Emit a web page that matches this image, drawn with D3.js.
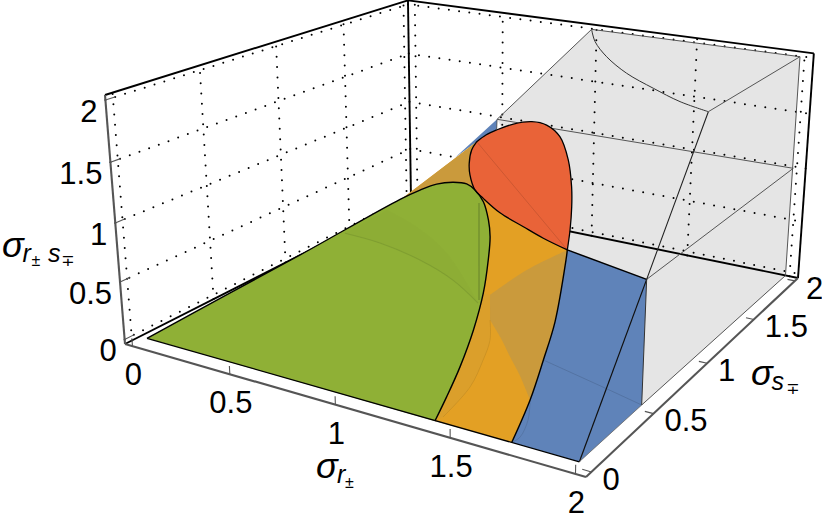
<!DOCTYPE html>
<html lang="en">
<head>
<meta charset="UTF-8">
<script src="https://d3js.org/d3.v7.min.js"></script>
<style>
  body { margin: 0; background: #fff; }
  text { font-family: "Liberation Sans", "DejaVu Sans", sans-serif; fill: #000; }
</style>
</head>
<body>
<svg class="chart" width="822" height="520"></svg>
<script>

const ticks = [0, 0.5, 1, 1.5, 2]
const tickLabels = ['0', '0.5', '1', '1.5', '2']

// curves on the slanted face sigma_rs = sigma_s, as [sigma_r, sigma_s]
const redUpper = [[0.824,1.263],[0.844,1.307],[0.876,1.344],[0.932,1.391],[1.007,1.421],[1.083,1.416],
  [1.175,1.366],[1.276,1.253],[1.362,1.122],[1.414,1.026],[1.466,0.915],[1.504,0.822]]
const redLower = [[1.504,0.822],[1.380,0.852],[1.270,0.886],[1.136,0.929],[1.025,0.982],[0.965,1.015],
  [0.898,1.085],[0.859,1.143],[0.828,1.214],[0.824,1.263]]
const greenEdge = [[0.035,0.008],[0.213,0.255],[0.414,0.532],[0.669,0.896],[0.727,0.961],[0.781,1.007],
  [0.848,1.032],[0.911,1.037],[0.965,1.015],[1.035,0.966],[1.108,0.884],[1.161,0.808],[1.216,0.701],
  [1.282,0.553],[1.336,0.390],[1.374,0.232],[1.395,0.105],[1.408,0.004]]
const orangeEdge = [[1.725,0.005],[1.702,0.176],[1.665,0.340],[1.624,0.503],[1.523,0.776],[1.504,0.822]]
const orangeStart = [0.646,0.831]
const tanTop = [[1.313,0.551],[1.394,0.694],[1.504,0.822]]
const tanBottom = [[1.702,0.176],[1.615,0.256],[1.536,0.320],[1.453,0.389],[1.375,0.447]]
const paleEdge = [[1.375,0.447],[1.423,0.366],[1.444,0.281],[1.458,0.165],[1.428,0.027]]
const greenArc = [[0.538,0.678],[0.720,0.669],[0.938,0.633],[1.128,0.578],[1.287,0.505]]
const greenWedge = [[0.646,0.831],[0.828,0.781],[1.030,0.691],[1.287,0.505]]
const greenBar = [[1.020,0.956],[1.283,0.519]]
const blueFaint = [[1.665,0.340],[1.940,0.293],[2.098,0.265]]
const blueBow = [[1.702,0.176],[1.736,0.101],[1.743,0.033],[1.725,0.005]]
const blueSliver = [[0.778,1.160],[0.844,1.402],[0.876,1.344],[0.824,1.263]]
const backCurve = [[0.990,2.009],[1.046,1.936],[1.146,1.855],[1.285,1.775],[1.444,1.712],[1.594,1.660],[1.737,1.629]]
const frontCorner = [1.991,0.005]

// points on the wall sigma_r = 2, as [sigma_s, sigma_rs]
const wallCrease = [[-0.013,0.028],[0.484,1.019],[0.984,2.021]]
const wallKnee = wallCrease[1]
const wallFoot = [0.481,0.026]
const wallFar = [[1.980,2.026],[1.984,0.006]]
const wallMid = [1.991,1.015]

// camera: picture positions of the corners of the plot box
const boxCorners = {
  O: [125,344], A: [586,477], B: [798,278], C: [411,199],
  D: [105,95], E: [405,-0.5], F: [815,51]
}
const boxMin = -0.04, boxMax = 2.04

const unit = d3.scaleLinear().domain([boxMin, boxMax]).range([0, 1])

function camera({O, A, B, C, D, E, F}) {
  const dx1 = A[0]-B[0], dx2 = C[0]-B[0], sx = O[0]-A[0]+B[0]-C[0]
  const dy1 = A[1]-B[1], dy2 = C[1]-B[1], sy = O[1]-A[1]+B[1]-C[1]
  const den = dx1*dy2 - dx2*dy1
  const g = (sx*dy2 - dx2*sy)/den, h = (dx1*sy - sx*dy1)/den
  const c1 = [A[0]-O[0]+g*A[0], A[1]-O[1]+g*A[1], g]
  const c2 = [C[0]-O[0]+h*C[0], C[1]-O[1]+h*C[1], h]
  const c4 = [O[0], O[1], 1]
  let n = 0, m = 0
  ;[[F,c1,c2],[E,[0,0,0],c2]].forEach(([T,u,v]) => {
    [0,1].forEach(k => {
      const lhs = D[k]-T[k]
      n += lhs*(T[k]*(u[2]+v[2]+1) - (u[k]+v[k]+c4[k]) - D[k] + c4[k])
      m += lhs*lhs
    })
  })
  const r = n/m
  return [c1, c2, [D[0]*(1+r)-c4[0], D[1]*(1+r)-c4[1], r], c4]
}
const M = camera(boxCorners)

function project(r, s, z) {
  const u = unit(r), v = unit(s), w = unit(z)
  const o = [0,1,2].map(k => M[0][k]*u + M[1][k]*v + M[2][k]*w + M[3][k])
  return [o[0]/o[2], o[1]/o[2]]
}
const onFace = ([r,s]) => project(r, s, s)
const onWall = ([s,z]) => project(2, s, z)

const smooth = d3.line().curve(d3.curveCatmullRom.alpha(0.5))
const straight = d3.line()

// join open pieces into one outline, corners between pieces stay sharp
function outline(pieces, closed) {
  const d = pieces.map(p => smooth(p)).join('').replace(/M/g, (m,i) => i ? 'L' : 'M')
  return closed ? d + 'Z' : d
}
const face = a => a.map(onFace)
const rev = a => a.slice().reverse()

const chart = d3.select('.chart')

function area(pieces, fill, opacity) {
  return chart.append('path').attr('d', outline(pieces, true))
    .attr('fill', fill).attr('fill-opacity', opacity === undefined ? 1 : opacity).attr('stroke', 'none')
}
function stroke(pieces, color, width, opacity) {
  return chart.append('path').attr('d', outline(pieces, false))
    .attr('fill', 'none').attr('stroke', color).attr('stroke-width', width)
    .attr('stroke-opacity', opacity === undefined ? 1 : opacity).attr('stroke-linejoin', 'round')
}
// straight-sided polygon
function flat(points, fill) {
  return chart.append('path').attr('d', straight(points) + 'Z').attr('fill', fill)
}

// gray solid behind the grid
flat([onFace(backCurve[0]), onWall(wallFar[0]), onWall(wallFar[1]), onWall(wallFoot), onWall(wallKnee),
  onFace(redUpper[11]), onFace(blueSliver[1])], '#e5e5e5')

// dotted grids on the left and back walls
const gridLines = []
ticks.forEach(t => {
  gridLines.push([project(boxMin,t,boxMin), project(boxMin,t,boxMax)])
  gridLines.push([project(boxMin,boxMin,t), project(boxMin,boxMax,t)])
  gridLines.push([project(t,boxMax,boxMin), project(t,boxMax,boxMax)])
  gridLines.push([project(boxMin,boxMax,t), project(boxMax,boxMax,t)])
})
chart.append('g').selectAll('path').data(gridLines).join('path')
  .attr('d', d => straight(d)).attr('fill', 'none').attr('stroke', '#000')
  .attr('stroke-width', 2).attr('stroke-linecap', 'round').attr('stroke-dasharray', '0 10.3')

// box edges
const backEdges = [
  [[boxMin,boxMin,boxMax],[boxMin,boxMax,boxMax]],
  [[boxMin,boxMax,boxMax],[boxMax,boxMax,boxMax]],
  [[boxMax,boxMax,boxMax],[boxMax,boxMax,boxMin]],
  [[boxMax,boxMax,boxMin],[boxMin,boxMax,boxMin]],
  [[boxMin,boxMax,boxMin],[boxMin,boxMax,boxMax]],
  [[boxMin,boxMax,boxMin],[boxMin,boxMin,boxMin]]
]
chart.append('g').selectAll('path').data(backEdges).join('path')
  .attr('d', d => straight(d.map(p => project(...p)))).attr('stroke', '#000').attr('stroke-width', 1.9)

// thin lines of the gray solid
const grayLines = [
  [onFace(blueSliver[1]), onFace(backCurve[0])],
  [onFace(backCurve[0]), onWall(wallFar[0])],
  [onWall(wallFar[0]), onWall(wallFar[1])],
  [onWall(wallFar[1]), onWall(wallFoot)],
  [onFace(blueSliver[1]), onWall(wallMid)],
  [onWall(wallKnee), onWall(wallMid)],
  [onWall(wallCrease[2]), onWall(wallFar[0])]
]
chart.append('g').selectAll('path').data(grayLines).join('path')
  .attr('d', d => straight(d)).attr('stroke', '#555').attr('stroke-width', 1)
stroke([face(backCurve)], '#333', 1)
stroke([wallCrease.map(onWall)], '#222', 1.1)

// coloured faces, back to front
flat(face(blueSliver), '#5f83b9')
area([[onFace(redUpper[11]), onWall(wallKnee)], [onWall(wallKnee), onWall(wallCrease[0])],
  [onFace(frontCorner), onFace(orangeEdge[0])], face(orangeEdge)], '#5f83b9')
flat([onWall(wallCrease[0]), onWall(wallKnee), onWall(wallFoot)], '#5f83b9')
area([[onFace(orangeStart), onFace(redLower[9])], [onFace(redLower[9]), onFace(redUpper[11])],
  rev(face(orangeEdge)), [onFace(orangeEdge[0]), onFace(greenEdge[17])]], '#e3a024')
flat([onFace(orangeStart), onFace(redLower[9]), onFace(redLower[5])], '#ca9a3c')
area([face(tanTop), rev(face(orangeEdge)).slice(0,4), face(tanBottom), [onFace(tanBottom[4]), onFace(tanTop[0])]], '#ca9a3c')
area([face(paleEdge), [onFace(greenEdge[17]), onFace(greenEdge[13])],
  [onFace(greenEdge[13]), onFace(tanTop[0])], [onFace(tanTop[0]), onFace(paleEdge[0])]], '#c9a03a', 0.3)
stroke([face(paleEdge)], '#000', 1, 0.08)
stroke([face(blueFaint)], '#000', 1, 0.12)
stroke([face(blueBow)], '#000', 1, 0.1)
area([[onFace(greenEdge[0]), onFace(greenEdge[17])], rev(face(greenEdge))], '#8fb036')
area([face(greenWedge), rev(face(greenArc))], '#7f8f30', 0.06)
stroke([face(greenArc)], '#5f7a28', 1.1, 0.3)
stroke([face(greenBar)], '#6c8a2e', 1.6, 0.75)
area([face(redUpper), face(redLower)], '#e96338')
stroke([[onFace(redLower[9]), onFace(redUpper[11])]], '#000', 1, 0.12)

// black outlines
stroke([[onFace(redUpper[11]), onWall(wallKnee)]], '#000', 1.5)
stroke([[onWall(wallCrease[0]), onWall(wallKnee)]], '#111', 1.2)
stroke([[onWall(wallKnee), onWall(wallFoot)]], '#333', 1)
stroke([[onFace(greenEdge[0]), onFace(frontCorner)]], '#000', 1.3)
stroke([[onWall(wallCrease[0]), onWall(wallFoot)]], '#666', 0.8)
stroke([face(orangeEdge)], '#000', 1.4)
stroke([face(greenEdge)], '#000', 1.4)
stroke([face(redUpper), face(redLower)], '#000', 1.3)
stroke([[onFace(blueSliver[1]), onFace(blueSliver[2])]], '#444', 0.8)

// axes in front of the box
const axisEdges = [
  [[boxMin,boxMin,boxMin],[boxMax,boxMin,boxMin]],
  [[boxMax,boxMin,boxMin],[boxMax,boxMax,boxMin]],
  [[boxMin,boxMin,boxMin],[boxMin,boxMin,boxMax]]
]
chart.append('g').selectAll('path').data(axisEdges).join('path')
  .attr('d', d => straight(d.map(p => project(...p)))).attr('stroke', '#555').attr('stroke-width', 2.1)

const axes = [
  {from: t => [t,boxMin,boxMin], to: t => [t,boxMin,0.03],  dx: 1,  dy: 28, anchor: 'middle'},
  {from: t => [boxMax,t,boxMin], to: t => [2.005,t,boxMin], dx: 11, dy: 7,  anchor: 'start'},
  {from: t => [boxMin,boxMin,t], to: t => [boxMin,0.015,t], dx: -8, dy: 11, anchor: 'end'}
]
axes.forEach(ax => {
  const g = chart.append('g')
  g.selectAll('path').data(ticks).join('path')
    .attr('d', t => straight([project(...ax.from(t)), project(...ax.to(t))]))
    .attr('stroke', '#555').attr('stroke-width', 1.1)
  g.selectAll('text').data(ticks).join('text')
    .attr('x', t => project(...ax.from(t))[0] + ax.dx)
    .attr('y', t => project(...ax.from(t))[1] + ax.dy)
    .attr('dy', '0.35em')
    .attr('text-anchor', ax.anchor)
    .attr('font-size', 31)
    .text((t,i) => tickLabels[i])
})

// axis titles: text, left edge, baseline, size
const titleR = [['σ',316,478,36,'italic'],['r',337,483,25,'italic'],['±',345,487.5,16,'normal']]
const titleS = [['σ',751,385,36,'italic'],['s',771.5,390,25,'italic'],['∓',786,394,16,'normal']]
const titleRS = [['σ',2,257,36,'italic'],['r',22.5,262,25,'italic'],['±',31.5,266,16,'normal'],['s',48,262,25,'italic'],['∓',61,266,16,'normal']]
;[titleR, titleS, titleRS].forEach(parts => {
  chart.append('text').selectAll('tspan').data(parts).join('tspan')
    .attr('x', d => d[1]).attr('y', d => d[2]).attr('font-size', d => d[3]).attr('font-style', d => d[4])
    .text(d => d[0])
})

</script>
</body>
</html>
